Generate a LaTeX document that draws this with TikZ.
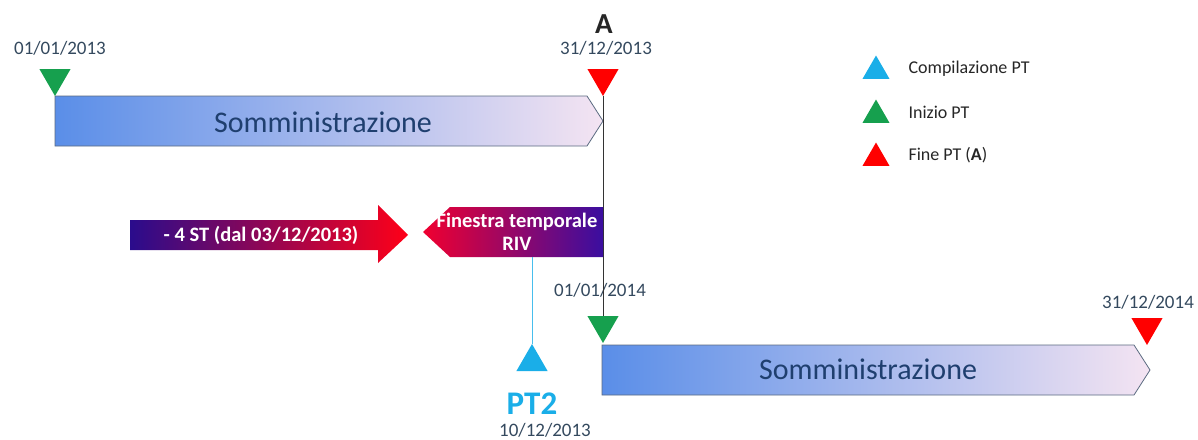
\documentclass[tikz,border=0pt]{standalone}
\usepackage{fontspec}
\setmainfont{Carlito}
\usetikzlibrary{shapes.geometric}
\definecolor{tgreen}{HTML}{16A04E}
\definecolor{tred}{HTML}{FF0000}
\definecolor{tcyan}{HTML}{1AAEE8}
\definecolor{datecol}{HTML}{34495E}
\definecolor{barL}{HTML}{5A8EE8}
\definecolor{barM}{HTML}{80C0F5}
\definecolor{barR}{HTML}{F4E4F2}
\definecolor{barline}{HTML}{5A6A80}
\definecolor{somcol}{HTML}{1F3F6F}
\definecolor{purp}{HTML}{3A0EA0}
\definecolor{redA}{HTML}{F00030}
\definecolor{stL}{HTML}{2A0C8C}
\definecolor{stR}{HTML}{FF0018}
\begin{document}
\begin{tikzpicture}[x=1pt,y=-1pt,
  tri/.style={regular polygon, regular polygon sides=3, inner sep=0pt, minimum size=36pt},
  downtri/.style={tri, shape border rotate=180},
  legtri/.style={regular polygon, regular polygon sides=3, inner sep=0pt, minimum size=31pt},
  datelbl/.style={font=\fontsize{19}{19}\selectfont, text=datecol},
  bartext/.style={font=\fontsize{30}{30}\selectfont, text=somcol},
  barshade/.style={left color=barL, middle color=barM, right color=barR, draw=barline, line width=0.8pt},
  legtext/.style={font=\fontsize{18}{18}\selectfont, text=black!85, anchor=west},
  whitebold/.style={font=\bfseries\fontsize{20.5}{23}\selectfont, text=white, align=center}
]
\useasboundingbox (0,0) rectangle (1198,439);

% bars
\shade[barshade] (55,96) -- (587,96) -- (603,121) -- (587,146) -- (55,146) -- cycle;
\node[bartext] (som1) at (323,122) {Somministrazione};
\shade[barshade] (602,345) -- (1134,345) -- (1150,370) -- (1134,395) -- (602,395) -- cycle;
\node[bartext] (som2) at (868,369) {Somministrazione};

% triangles top
\node[downtri, fill=tgreen] (g13) at (55,78) {};
\node[datelbl] (d1) at (60,48) {01/01/2013};
\node[downtri, fill=tred] (rA) at (603,78) {};
\node[datelbl] (d2) at (606,48) {31/12/2013};
\node[font=\bfseries\fontsize{29}{29}\selectfont, text=black!85] (A) at (604,24) {A};

% second year
\node[downtri, fill=tgreen] (g14) at (603,325) {};
\node[datelbl] (d3) at (600,290) {01/01/2014};
\node[downtri, fill=tred] (r14) at (1147,327) {};
\node[datelbl] (d4) at (1148,302) {31/12/2014};

\draw[black!80, line width=1pt] (rA.south) -- (g14.north);

% RIV arrow
\shade[left color=redA, right color=purp] (603,207) -- (450,207) -- (423,232) -- (450,257) -- (603,257) -- cycle;
\node[whitebold] (riv) at (517,232) {Finestra temporale\\RIV};
\coordinate (rivb) at (532,257);

% ST arrow
\shade[left color=stL, right color=stR] (130,220) -- (378,220) -- (378,205) -- (408,235) -- (378,263) -- (378,250) -- (130,250) -- cycle;
\node[whitebold] (st) at (261,235) {- 4 ST (dal 03/12/2013)};

% PT2
\node[tri, fill=tcyan] (pt2t) at (532,362) {};
\draw[tcyan!80, line width=1pt] (rivb) -- (pt2t.north);
\node[font=\bfseries\fontsize{33}{33}\selectfont, text=tcyan] (pt2) at (532,404) {PT2};
\node[datelbl] (d5) at (545,430) {10/12/2013};

% legend
\node[legtri, fill=tcyan] (lc) at (876,71) {};
\node[legtext] (lct) at (905,69) {Compilazione PT};
\node[legtri, fill=tgreen] (lg) at (876,115) {};
\node[legtext] (lgt) at (905,112) {Inizio PT};
\node[legtri, fill=tred] (lr) at (876,158) {};
\node[legtext] (lrt) at (905,155) {Fine PT (\textbf{A})};
\end{tikzpicture}
\end{document}
